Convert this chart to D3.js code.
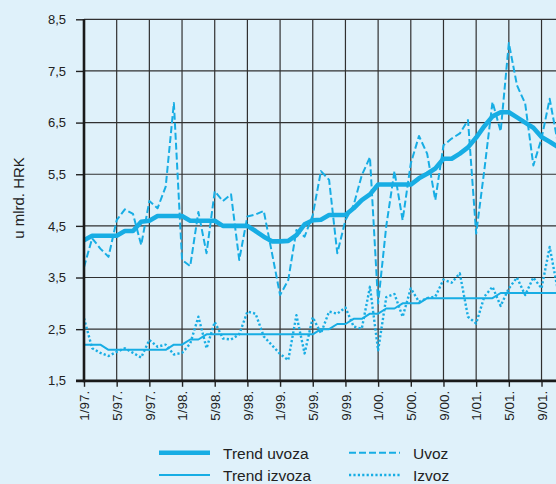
<!DOCTYPE html>
<html>
<head>
<meta charset="utf-8">
<script src="https://cdn.jsdelivr.net/npm/d3@7"></script>
<style>
  html, body { margin: 0; padding: 0; background: #dff1fa; }
  svg { display: block; font-family: "Liberation Sans", Arial, Helvetica, sans-serif; }
</style>
</head>
<body>
<svg id="chart" width="556" height="484"></svg>
<script>
// Monthly imports / exports, bn HRK, from 1/97 onwards (one value per month)
const uvoz = [3.70, 4.26, 4.06, 3.90, 4.61, 4.82, 4.73, 4.13, 4.98, 4.84, 5.26, 6.88,
              3.84, 3.72, 4.77, 3.97, 5.17, 4.98, 5.11, 3.84, 4.68, 4.72, 4.79, 3.98,
              3.16, 3.45, 4.42, 4.29, 4.71, 5.56, 5.39, 3.97, 4.61, 4.90, 5.48, 5.83,
              3.00, 4.50, 5.56, 4.61, 5.71, 6.24, 5.90, 5.00, 6.06, 6.19, 6.29, 6.55,
              4.35, 5.58, 6.90, 6.33, 8.04, 7.22, 6.87, 5.67, 6.19, 6.96, 6.10];
const trendUvoza = [4.22, 4.31, 4.31, 4.31, 4.31, 4.40, 4.40, 4.58, 4.60, 4.69, 4.69, 4.69,
                    4.69, 4.60, 4.60, 4.60, 4.60, 4.50, 4.50, 4.50, 4.50, 4.40, 4.29, 4.20,
                    4.20, 4.21, 4.32, 4.53, 4.61, 4.62, 4.71, 4.71, 4.71, 4.84, 5.00, 5.11,
                    5.30, 5.30, 5.30, 5.30, 5.30, 5.42, 5.51, 5.61, 5.80, 5.80, 5.90, 6.02,
                    6.21, 6.43, 6.62, 6.70, 6.70, 6.60, 6.50, 6.40, 6.22, 6.13, 6.03];
const izvoz = [2.71, 2.13, 2.04, 1.98, 2.06, 2.13, 2.04, 1.95, 2.29, 2.16, 2.20, 2.01,
               2.04, 2.22, 2.74, 2.13, 2.64, 2.32, 2.30, 2.40, 2.84, 2.80, 2.36, 2.19,
               2.02, 1.90, 2.77, 2.03, 2.73, 2.42, 2.84, 2.80, 2.92, 2.55, 2.51, 3.32,
               2.09, 3.12, 3.18, 2.74, 3.29, 3.03, 3.10, 3.13, 3.46, 3.40, 3.58, 2.74,
               2.61, 3.13, 3.32, 2.95, 3.29, 3.50, 3.16, 3.50, 3.29, 4.09, 3.25];
const trendIzvoza = [2.2, 2.2, 2.2, 2.1, 2.1, 2.1, 2.1, 2.1, 2.1, 2.1, 2.1, 2.2,
                     2.2, 2.3, 2.3, 2.4, 2.4, 2.4, 2.4, 2.4, 2.4, 2.4, 2.4, 2.4,
                     2.4, 2.4, 2.4, 2.4, 2.4, 2.5, 2.5, 2.6, 2.6, 2.7, 2.7, 2.8,
                     2.8, 2.9, 2.9, 3.0, 3.0, 3.0, 3.1, 3.1, 3.1, 3.1, 3.1, 3.1,
                     3.1, 3.1, 3.1, 3.2, 3.2, 3.2, 3.2, 3.2, 3.2, 3.2, 3.2];

// Axis ticks (every fourth month)
const xTickMonths = [0, 4, 8, 12, 16, 20, 24, 28, 32, 36, 40, 44, 48, 52, 56];
const xTickLabels = ["1/97.", "5/97.", "9/97.", "1/98.", "5/98.", "9/98.", "1/99.", "5/99.",
                     "9/99.", "1/00.", "5/00.", "9/00.", "1/01.", "5/01.", "9/01."];
const yTicks = [1.5, 2.5, 3.5, 4.5, 5.5, 6.5, 7.5, 8.5];
const yTickLabels = ["1,5", "2,5", "3,5", "4,5", "5,5", "6,5", "7,5", "8,5"];

const legendItems = [
  { label: "Trend uvoza", kind: "trendU" },
  { label: "Uvoz", kind: "uvoz" },
  { label: "Trend izvoza", kind: "trendI" },
  { label: "Izvoz", kind: "izvoz" }
];

const blue = "#17ade4";
const styles = {
  trendU: { width: 4.6, dash: null },
  trendI: { width: 2, dash: null },
  uvoz:   { width: 2, dash: "7,3" },
  izvoz:  { width: 2.4, dash: "2.2,2.2" }
};

const svg = d3.select("#chart");
const plotLeft = 84, plotTop = 19.3, plotBottom = 380.8;

const x = d3.scaleLinear().domain([0, 60]).range([plotLeft, plotLeft + 60 * 8.17]);
const y = d3.scaleLinear().domain([1.5, 8.5]).range([plotBottom, plotTop]);

// Grid
const grid = svg.append("g").attr("class", "grid");
grid.selectAll("line.v").data(xTickMonths.slice(1)).join("line")
  .attr("x1", d => x(d)).attr("x2", d => x(d))
  .attr("y1", plotTop).attr("y2", plotBottom)
  .attr("stroke", "#303030").attr("stroke-width", 1.2);
grid.selectAll("line.h").data(yTicks.slice(1)).join("line")
  .attr("x1", plotLeft).attr("x2", 600)
  .attr("y1", d => y(d)).attr("y2", d => y(d))
  .attr("stroke", "#303030").attr("stroke-width", 1.2);

// Series
const line = d3.line().x((d, i) => x(i)).y(d => y(d));
function drawSeries(data, kind) {
  const s = styles[kind];
  svg.append("path").datum(data)
    .attr("d", line)
    .attr("fill", "none")
    .attr("stroke", blue)
    .attr("stroke-width", s.width)
    .attr("stroke-linejoin", "round")
    .attr("stroke-dasharray", s.dash);
}
drawSeries(izvoz, "izvoz");
drawSeries(trendIzvoza, "trendI");
drawSeries(uvoz, "uvoz");
drawSeries(trendUvoza, "trendU");

// Y axis
const yAxis = d3.axisLeft(y).tickValues(yTicks)
  .tickFormat((d, i) => yTickLabels[i]).tickSize(8).tickPadding(10);
const gy = svg.append("g").attr("transform", `translate(${plotLeft},0)`).call(yAxis);
gy.select(".domain").remove();
gy.selectAll(".tick line").attr("stroke", "#222").attr("stroke-width", 1.4);
gy.selectAll(".tick text").attr("font-size", 13).attr("fill", "#222")
  .attr("font-family", "'Liberation Sans', Arial, sans-serif");

// X axis
const xAxis = d3.axisBottom(x).tickValues(xTickMonths)
  .tickFormat((d, i) => xTickLabels[i]).tickSize(6).tickSizeOuter(0);
const gx = svg.append("g").attr("transform", `translate(0,${plotBottom})`).call(xAxis);
gx.select(".domain").remove();
gx.selectAll(".tick line").attr("stroke", "#222").attr("stroke-width", 1.4);
gx.selectAll(".tick text")
  .attr("font-size", 13.5).attr("fill", "#222")
  .attr("font-family", "'Liberation Sans', Arial, sans-serif")
  .attr("text-anchor", "end")
  .attr("transform", "translate(0,10) rotate(-90)")
  .attr("x", 0).attr("y", 0).attr("dy", "0.35em");

// Axis lines
svg.append("line").attr("x1", plotLeft).attr("x2", plotLeft).attr("y1", plotTop).attr("y2", plotBottom + 1.5)
  .attr("stroke", "#1a1a1a").attr("stroke-width", 2.6);
svg.append("line").attr("x1", plotLeft - 8).attr("x2", 600).attr("y1", plotBottom).attr("y2", plotBottom)
  .attr("stroke", "#1a1a1a").attr("stroke-width", 2.8);

// Y title
svg.append("text")
  .attr("transform", `translate(24,198) rotate(-90)`)
  .attr("text-anchor", "middle")
  .attr("font-size", 15).attr("fill", "#222")
  .text("u mlrd. HRK");

// Legend
const legendPos = [
  { lx: 159, ty: 452.7 }, { lx: 349, ty: 452.7 },
  { lx: 159, ty: 475 }, { lx: 349, ty: 475 }
];
const lg = svg.append("g");
legendItems.forEach((item, i) => {
  const p = legendPos[i], s = styles[item.kind];
  lg.append("line")
    .attr("x1", p.lx).attr("x2", p.lx + 51)
    .attr("y1", p.ty).attr("y2", p.ty)
    .attr("stroke", blue).attr("stroke-width", s.width)
    .attr("stroke-dasharray", s.dash);
  lg.append("text")
    .attr("x", p.lx + 64).attr("y", p.ty + 6)
    .attr("font-size", 15.5).attr("fill", "#222")
    .text(item.label);
});
</script>
</body>
</html>
